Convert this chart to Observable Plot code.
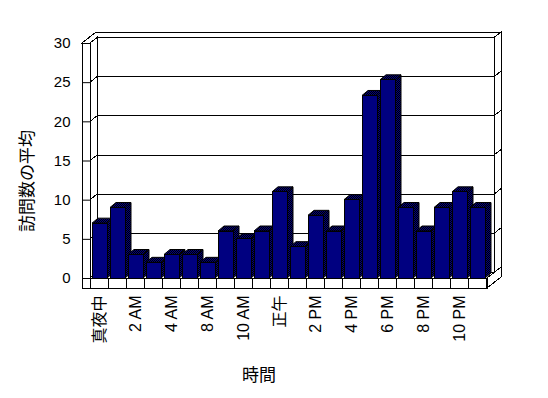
<!DOCTYPE html>
<html>
<head>
<meta charset="utf-8">
<script src="https://cdn.jsdelivr.net/npm/d3@7"></script>
<script src="https://cdn.jsdelivr.net/npm/@observablehq/plot@0.6"></script>
<style>
  html, body { margin: 0; padding: 0; background: #fff; }
</style>
</head>
<body>
<div id="chart"></div>
<script>
// ---- data ----
const hours = ["真夜中", "1 AM", "2 AM", "3 AM", "4 AM", "7 AM", "8 AM", "9 AM", "10 AM", "11 AM", "正午",
               "1 PM", "2 PM", "3 PM", "4 PM", "5 PM", "6 PM", "7 PM", "8 PM", "9 PM", "10 PM", "11 PM"];
const visits = [7, 9, 3, 2, 3, 3, 2, 6, 5, 6, 11, 4, 8, 6, 10, 23.3, 25.3, 9, 6, 9, 11, 9];
const tickLabels = ["真夜中", "2 AM", "4 AM", "8 AM", "10 AM", "正午", "2 PM", "4 PM", "6 PM", "8 PM", "10 PM"];
const yTicks = [0, 5, 10, 15, 20, 25, 30];
const yTitle = "訪問数の平均";
const xTitle = "時間";

const data = hours.map((h, i) => ({hour: h, visits: visits[i]}));

// depth offsets (pixels) for the pseudo-3D look
const DX = 7, DY = -5.5;     // floor/back wall depth
const BX = 6, BY = -5;       // bar depth
const FLOOR_T = 10, WALL_T = 8;

const chart = Plot.plot({
  width: 548,
  height: 398,
  marginLeft: 90,
  marginRight: 61,
  marginTop: 43,
  marginBottom: 120,
  style: {
    fontFamily: '"Liberation Sans", "Noto Sans CJK JP", sans-serif',
    fontSize: "14px",
    color: "black",
    background: "white",
    overflow: "visible"
  },
  x: {
    domain: hours,
    paddingInner: 0.18,
    paddingOuter: 0.09,
    tickSize: 0,
    tickPadding: 17,
    tickRotate: -90,
    tickFormat: d => tickLabels.includes(d) ? d : "",
    label: null
  },
  y: {
    domain: [0, 30],
    ticks: yTicks,
    tickSize: 8,
    tickPadding: 12,
    label: null
  },
  marks: [
    Plot.barY(data, {x: "hour", y: "visits", fill: "#000080", stroke: "black", strokeWidth: 1, shapeRendering: "crispEdges"}),
    Plot.text([yTitle], {frameAnchor: "left", dx: -63, dy: 20, rotate: -90, textAnchor: "middle", fontSize: 17, fill: "black"}),
    Plot.text([xTitle], {frameAnchor: "bottom", dx: -30, dy: 102, fontSize: 17, fill: "black"})
  ]
});

document.getElementById("chart").appendChild(chart);

// larger tick labels, like the reference
d3.select(chart).selectAll('g[aria-label^="x-axis"]').attr("font-size", 16);
d3.select(chart).selectAll('g[aria-label^="x-axis"] text').attr("font-size", 16);
d3.select(chart).selectAll('g[aria-label^="y-axis"]').attr("font-size", 15);
d3.select(chart).selectAll('g[aria-label^="y-axis"] text').attr("font-size", 15);

// ---- pseudo-3D decorations drawn from Plot's own scales ----
const svg = d3.select(chart);
const xs = chart.scale("x");
const ys = chart.scale("y");
const x0 = xs.range[0], x1 = xs.range[1];
const yTop = ys.apply(ys.domain[1]), yBot = ys.apply(ys.domain[0]);
const step = xs.step != null ? xs.step : (x1 - x0) / hours.length;
const bw = xs.bandwidth;

// dither pattern for side/top faces
const defs = svg.insert("defs", ":first-child");
const pat = defs.append("pattern").attr("id", "dith").attr("width", 2).attr("height", 2).attr("patternUnits", "userSpaceOnUse");
pat.append("rect").attr("width", 2).attr("height", 2).attr("fill", "#000080");
pat.append("rect").attr("width", 1).attr("height", 1).attr("fill", "#000");
pat.append("rect").attr("x", 1).attr("y", 1).attr("width", 1).attr("height", 1).attr("fill", "#000");

const line = pts => "M" + pts.map(p => p.join(",")).join("L");
const poly = pts => line(pts) + "Z";

const walls = svg.insert("g", "g").attr("fill", "white").attr("stroke", "black").attr("stroke-width", 1).attr("shape-rendering", "crispEdges");
const xl = x0 - WALL_T;
// back wall right thickness
walls.append("path").attr("d", poly([[x1 + DX, yTop + DY], [x1 + 2 * DX, yTop + 2 * DY], [x1 + 2 * DX, yBot + 2 * DY], [x1 + DX, yBot + DY]]));
// top faces (left wall + back wall thickness)
walls.append("path").attr("d", poly([[xl, yTop], [x0, yTop], [x0 + DX, yTop + DY], [x1 + DX, yTop + DY], [x1 + 2 * DX, yTop + 2 * DY], [xl + 2 * DX, yTop + 2 * DY]]));
// back wall face
walls.append("path").attr("d", poly([[x0 + DX, yTop + DY], [x1 + DX, yTop + DY], [x1 + DX, yBot + DY], [x0 + DX, yBot + DY]]));
// left wall inner face
walls.append("path").attr("d", poly([[x0, yTop], [x0 + DX, yTop + DY], [x0 + DX, yBot + DY], [x0, yBot]]));
// floor top
walls.append("path").attr("d", poly([[x0, yBot], [x1, yBot], [x1 + DX, yBot + DY], [x0 + DX, yBot + DY]]));
// floor right face
walls.append("path").attr("d", poly([[x1, yBot], [x1, yBot + FLOOR_T], [x1 + 2 * DX, yBot + FLOOR_T + 2 * DY], [x1 + 2 * DX, yBot + 2 * DY]]));
// floor front face
walls.append("path").attr("d", poly([[xl, yBot], [x1, yBot], [x1, yBot + FLOOR_T], [xl, yBot + FLOOR_T]]));
// left wall front face
walls.append("path").attr("d", poly([[xl, yTop], [x0, yTop], [x0, yBot + FLOOR_T], [xl, yBot + FLOOR_T]]));
// gridlines
yTicks.forEach(v => {
  const yy = ys.apply(v);
  walls.append("path").attr("fill", "none").attr("d", line([[x0, yy], [x0 + DX, yy + DY], [x1 + DX, yy + DY], [x1 + 2 * DX, yy + 2 * DY]]));
});
// floor category divisions
hours.forEach((h, i) => {
  const bx = xs.apply(h) - (step - bw) / 2;
  walls.append("path").attr("fill", "none").attr("d", line([[bx, yBot], [bx, yBot + FLOOR_T]]));
  if (i === hours.length - 1) {
    const ex = bx + step;
    walls.append("path").attr("fill", "none").attr("d", line([[ex, yBot], [ex, yBot + FLOOR_T]]));
  }
});

// bar side/top faces, drawn left to right, behind the front faces
const barG = svg.select('g[aria-label="bar"]').node();
const faces = svg.insert("g", () => barG).attr("fill", "url(#dith)").attr("stroke", "black").attr("stroke-width", 1);
data.forEach(d => {
  const l = xs.apply(d.hour), r = l + bw;
  const yv = ys.apply(d.visits);
  faces.append("path").attr("d", poly([[r, yv], [r + BX, yv + BY], [r + BX, yBot + BY], [r, yBot]]));
  faces.append("path").attr("d", poly([[l, yv], [l + BX, yv + BY], [r + BX, yv + BY], [r, yv]]));
});
</script>
</body>
</html>
